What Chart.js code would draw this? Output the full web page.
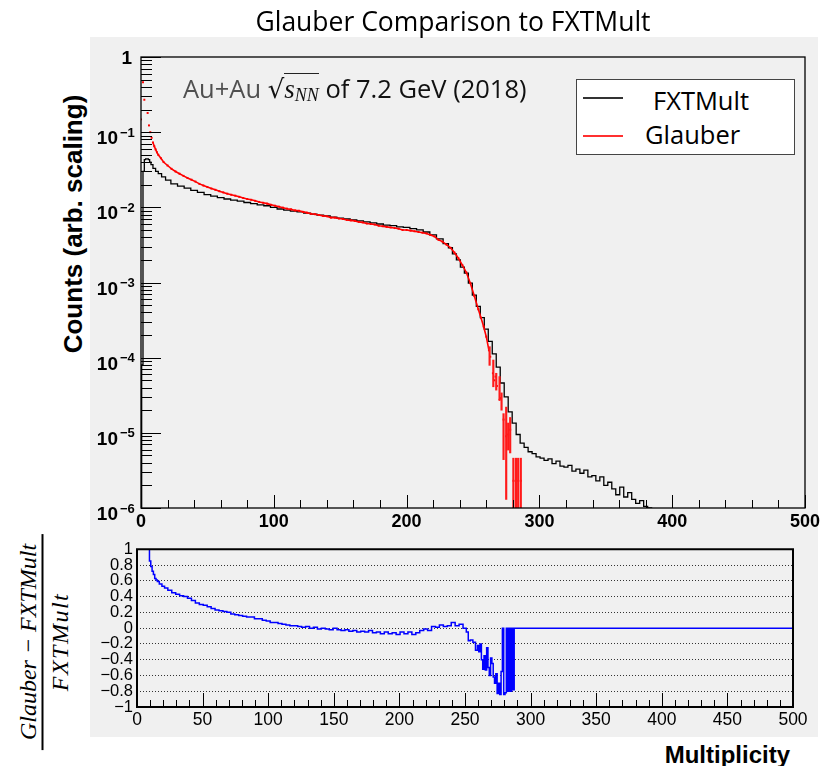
<!DOCTYPE html>
<html>
<head>
<meta charset="utf-8">
<script src="https://cdn.jsdelivr.net/npm/chart.js@4.4.1/dist/chart.umd.min.js"></script>
<style>
  body { margin: 0; width: 823px; height: 766px; background: #fff; position: relative; overflow: hidden; font-family: 'Liberation Sans', Arial, sans-serif; }
  #pad { position: absolute; left: 90px; top: 37px; width: 728px; height: 700px; background: #f0f0f0; }
  canvas { position: absolute; left: 90px; }
  #topCanvas { top: 37px; }
  #botCanvas { top: 537px; }
  .abs { position: absolute; white-space: nowrap; }
  .title { left: 0; width: 906px; top: 5px; text-align: center; font-family: 'Open Sans'; font-size: 26.5px; line-height: 32px; color: #000; }
  .note { left: 183px; top: 73px; font-family: 'Open Sans'; font-size: 25.5px; line-height: 30px; color: #111; }
  .lg { font-family: 'Open Sans'; font-size: 25.5px; line-height: 28px; color: #000; }
  .rot { transform: translate(-50%, -50%) rotate(-90deg); }
</style>
</head>
<body>
<div id="pad"></div>
<canvas id="topCanvas" width="740" height="500"></canvas>
<canvas id="botCanvas" width="728" height="200"></canvas>

<div class="abs title">Glauber Comparison to FXTMult</div>

<div class="abs note"><span style="color:#505050">Au+Au</span> <span style="font-family:'DejaVu Serif';font-size:26px;">√</span><span style="border-top:1.5px solid #222;font-family:'Liberation Serif';font-style:italic;font-size:27px;">s<sub style="font-size:18px;vertical-align:-3px;">NN</sub></span> of 7.2 GeV (2018)</div>

<div class="abs" style="left:576px;top:79px;width:219px;height:76px;background:#fff;border:1px solid #444;box-sizing:border-box;"></div>
<div class="abs" style="left:583px;top:97px;width:40px;height:2px;background:#333;"></div>
<div class="abs" style="left:583px;top:135px;width:40px;height:2px;background:#ff3030;"></div>
<div class="abs lg" style="left:653px;top:86px;">FXTMult</div>
<div class="abs lg" style="left:645px;top:120px;">Glauber</div>

<div class="abs rot" style="left:73px;top:224px;font:bold 26px 'Liberation Sans';line-height:30px;">Counts (arb. scaling)</div>

<div class="abs rot" style="left:44px;top:642px;font:italic 24px 'Liberation Serif';text-align:center;">
  <div style="line-height:27px;padding:0 10px;">Glauber − FXTMult</div>
  <div style="border-top:2px solid #000;line-height:27px;padding-top:3px;letter-spacing:1.5px;">FXTMult</div>
</div>

<div class="abs" style="right:33px;top:740px;font:bold 24px 'Liberation Sans';line-height:30px;">Multiplicity</div>

<script>
// FXTMult histogram (black), bin centre -> counts
const fxtMultX = [0, 1, 2, 3, 4, 5, 6, 7, 8, 10, 12, 14, 17, 20, 25, 30, 35, 40, 45, 50,
  55, 60, 65, 70, 75, 80, 85, 90, 95, 100, 105, 110, 115, 120, 125, 130, 135, 140, 145, 150,
  155, 160, 165, 170, 175, 180, 185, 190, 195, 200, 205, 210, 215, 220, 225, 230, 233, 236, 239, 242,
  245, 248, 251, 254, 257, 260, 263, 266, 269, 272, 275, 278, 281, 284, 287, 290, 293, 296, 299, 302,
  305, 308, 311, 314, 317, 320, 323, 326, 329, 332, 335, 338, 341, 344, 347, 350, 353, 356, 359, 362,
  365, 368, 371, 374, 377, 380, 383, 386];
const fxtMult = [5e-7, 8e-5, 3.0e-2, 4.3e-2, 4.4e-2, 4.4e-2, 4.3e-2, 4.0e-2, 3.7e-2, 3.3e-2, 3.0e-2, 2.8e-2, 2.55e-2, 2.3e-2, 2.05e-2, 1.92e-2, 1.80e-2, 1.68e-2, 1.58e-2, 1.48e-2,
  1.41e-2, 1.35e-2, 1.29e-2, 1.25e-2, 1.21e-2, 1.16e-2, 1.12e-2, 1.08e-2, 1.05e-2, 1.00e-2, 9.5e-3, 9.2e-3, 8.9e-3, 8.7e-3, 8.4e-3, 8.1e-3, 7.9e-3, 7.7e-3, 7.4e-3, 7.2e-3,
  7.0e-3, 6.8e-3, 6.6e-3, 6.4e-3, 6.2e-3, 6.0e-3, 5.8e-3, 5.7e-3, 5.5e-3, 5.4e-3, 5.2e-3, 5.0e-3, 4.7e-3, 4.3e-3, 3.8e-3, 3.3e-3, 2.9e-3, 2.4e-3, 2.0e-3, 1.6e-3,
  1.33e-3, 9.8e-4, 6.8e-4, 4.8e-4, 3.4e-4, 2.4e-4, 1.65e-4, 1.12e-4, 7.5e-5, 4.6e-5, 3.0e-5, 1.9e-5, 1.35e-5, 9.5e-6, 7.3e-6, 6.4e-6, 5.6e-6, 5.3e-6, 4.8e-6, 4.6e-6,
  4.3e-6, 4.5e-6, 3.9e-6, 4.2e-6, 3.6e-6, 3.5e-6, 3.7e-6, 3.1e-6, 3.3e-6, 2.9e-6, 3.2e-6, 2.6e-6, 2.7e-6, 2.3e-6, 2.6e-6, 2.0e-6, 2.2e-6, 1.8e-6, 1.5e-6, 1.9e-6,
  1.4e-6, 1.6e-6, 1.3e-6, 1.15e-6, 1.25e-6, 1.05e-6, 1.0e-6, 5e-7];

// Glauber (red markers)
const glauberX = [0, 1.5, 2.5, 5, 6, 7, 8, 9, 10, 11, 12, 13, 15, 17, 20, 23, 26, 29, 32, 35,
  38, 41, 44, 47, 50, 53, 56, 59, 62, 65, 68, 71, 74, 77, 80, 83, 86, 89, 92, 95,
  98, 101, 104, 107, 110, 113, 116, 119, 122, 125, 128, 131, 134, 137, 140, 143, 146, 149, 152, 155,
  158, 161, 164, 167, 170, 173, 176, 179, 182, 185, 188, 191, 194, 197, 200, 203, 206, 209, 212, 215,
  218, 221, 224, 227, 230, 233, 236, 239, 242, 245, 248, 251, 254, 256, 258, 260, 262, 263, 265, 266,
  267, 268, 270, 271, 273, 275, 276.5, 278, 280.5, 282.5, 284, 286];
const glauber = [0.148, 0.46, 0.27, 0.18, 0.123, 0.10, 0.084, 0.073, 0.065, 0.059, 0.054, 0.050, 0.045, 0.040, 0.036, 0.0325, 0.030, 0.028, 0.0262, 0.0246,
  0.0233, 0.022, 0.0205, 0.0195, 0.0186, 0.0178, 0.0171, 0.0164, 0.0158, 0.0152, 0.0147, 0.0143, 0.0138, 0.0133, 0.0129, 0.0126, 0.0122, 0.0118, 0.0115, 0.0112,
  0.0108, 0.0105, 0.0102, 0.0099, 0.0096, 0.0094, 0.0091, 0.0090, 0.0087, 0.0085, 0.0082, 0.0081, 0.0079, 0.0077, 0.0076, 0.0073, 0.0073, 0.0071, 0.0070, 0.0068,
  0.0067, 0.0066, 0.0064, 0.0063, 0.0061, 0.0060, 0.0059, 0.0057, 0.0056, 0.0055, 0.0054, 0.0053, 0.0052, 0.0050, 0.0050, 0.0049, 0.0048, 0.0047, 0.0046, 0.0045,
  0.0043, 0.0041, 0.0037, 0.0035, 0.0032, 0.0029, 0.0025, 0.0021, 0.0017, 0.00136, 0.00098, 0.00066, 0.00044, 0.00034, 0.00026, 0.00019, 0.000125, 0.000103, 6.2e-5, 5.0e-5,
  5.6e-5, 4.2e-5, 2.75e-5, 2.9e-5, 1.5e-5, 9e-6, 9.5e-6, 1.1e-5, 2.3e-6, 2.3e-6, 2.3e-6, 2.3e-6];

// Glauber error bars in the tail
const glauberErrX = [262.5, 265.3, 267.5, 270, 271.5, 273, 275, 276.5, 278, 280.4, 282.4, 284, 286];
const glauberErrLow = [7.9e-5, 4.1e-5, 3.7e-5, 2.75e-5, 2.0e-5, 4.4e-6, 1.3e-6, 5.9e-6, 5.4e-6, 1e-7, 1e-7, 1e-7, 1e-7];
const glauberErrHigh = [1.4e-4, 9.3e-5, 6.2e-5, 5.6e-5, 3.4e-5, 1.8e-5, 2.2e-5, 1.35e-5, 1.6e-5, 4.6e-6, 4.6e-6, 4.6e-6, 4.6e-6];

// (Glauber - FXTMult) / FXTMult (blue)
const ratioX = [0, 5, 9, 10, 11, 12, 13, 14, 15, 16, 18, 20, 22, 25, 28, 31, 34, 37, 40, 43,
  46, 49, 52, 55, 58, 61, 64, 67, 70, 73, 76, 79, 82, 85, 88, 91, 94, 97, 100, 103,
  106, 109, 112, 115, 118, 121, 124, 127, 130, 133, 136, 139, 142, 145, 148, 151, 154, 157, 160, 163,
  166, 169, 172, 175, 178, 181, 184, 187, 190, 193, 196, 199, 202, 205, 208, 211, 214, 217, 220, 223,
  226, 229, 232, 235, 238, 241, 244, 247, 250, 252, 253, 255, 257, 259, 260, 261, 262, 263, 264, 265,
  266, 267, 268, 269, 270, 271, 272, 273, 274, 275, 276, 277, 278, 279, 280, 281, 282, 283, 284, 285,
  286, 287, 288, 500];
const ratio = [1, 1, 1, 0.85, 0.78, 0.72, 0.68, 0.63, 0.61, 0.59, 0.56, 0.53, 0.51, 0.48, 0.45, 0.43, 0.41, 0.40, 0.38, 0.35,
  0.32, 0.30, 0.29, 0.27, 0.25, 0.23, 0.22, 0.21, 0.20, 0.18, 0.17, 0.16, 0.15, 0.14, 0.14, 0.12, 0.12, 0.10, 0.09, 0.07,
  0.07, 0.06, 0.05, 0.04, 0.03, 0.03, 0.02, 0.01, 0.02, 0.00, 0.01, -0.01, 0.00, -0.01, -0.02, 0.00, -0.02, -0.03, -0.02, -0.04,
  -0.03, -0.05, -0.04, -0.05, -0.03, -0.06, -0.05, -0.07, -0.05, -0.07, -0.06, -0.08, -0.05, -0.07, -0.05, -0.08, -0.06, -0.03, -0.01, -0.03,
  0.02, 0.01, 0.04, 0.02, 0.03, 0.07, 0.03, 0.05, 0.00, -0.05, -0.16, -0.15, -0.18, -0.28, -0.22, -0.30, -0.20, -0.40, -0.52, -0.35,
  -0.53, -0.25, -0.50, -0.60, -0.38, -0.45, -0.62, -0.70, -0.58, -0.83, -0.70, -0.84, -0.55, 0, -0.84, -0.82, 0, -0.80, 0, -0.80,
  0, -0.78, 0, 0];

// tick values
const logDecades = [-6, -5, -4, -3, -2, -1];
const ratioTicks = [-1, -0.8, -0.6, -0.4, -0.2, 0, 0.2, 0.4, 0.6, 0.8, 1];

const axisFont = "'Liberation Sans', Arial, sans-serif";

// ROOT-like frame with inward tick marks
const rootAxes = {
  id: 'rootAxes',
  afterDatasetsDraw(chart, args, opts) {
    const { ctx, chartArea: a, scales } = chart;
    ctx.save();
    ctx.strokeStyle = '#000';
    ctx.lineWidth = opts.frameWidth;
    ctx.strokeRect(a.left, a.top, a.right - a.left, a.bottom - a.top);

    ctx.lineWidth = 1;
    const x = scales.x;
    for (let v = x.min; v <= x.max; v += opts.xMinor) {
      const px = Math.round(x.getPixelForValue(v)) + 0.5;
      const len = v % opts.xMajor === 0 ? opts.xMajorLen : opts.xMinorLen;
      ctx.beginPath();
      ctx.moveTo(px, a.bottom);
      ctx.lineTo(px, a.bottom - len);
      ctx.stroke();
    }

    if (opts.logY) {
      const y = scales.y;
      logDecades.concat([0]).forEach(e => {
        for (let k = 1; k <= 9; k++) {
          if (e === 0 && k > 1) break;
          const py = Math.round(y.getPixelForValue(k * Math.pow(10, e))) + 0.5;
          const len = k === 1 ? 20 : 11;
          ctx.beginPath();
          ctx.moveTo(a.left, py);
          ctx.lineTo(a.left + len, py);
          ctx.stroke();
        }
      });
      // decade labels with superscripts
      ctx.fillStyle = '#000';
      ctx.textBaseline = 'alphabetic';
      logDecades.forEach(e => {
        const py = y.getPixelForValue(Math.pow(10, e));
        ctx.font = 'bold 19px ' + axisFont;
        ctx.textAlign = 'right';
        ctx.fillText('10', a.left - 23, py + 12);
        ctx.font = 'bold 13px ' + axisFont;
        ctx.textAlign = 'left';
        ctx.fillText('\u2212' + (-e), a.left - 21, py + 4.5);
      });
      ctx.font = 'bold 19px ' + axisFont;
      ctx.textAlign = 'right';
      ctx.fillText('1', a.left - 9, y.getPixelForValue(1) + 6.5);
    }
    ctx.restore();
  }
};

const topChart = new Chart(document.getElementById('topCanvas'), {
  type: 'line',
  data: {
    datasets: [
      {
        type: 'bar',
        label: 'Glauber errors',
        data: glauberErrX.map((v, i) => ({ x: v, y: [glauberErrLow[i], glauberErrHigh[i]] })),
        backgroundColor: '#ff1a1a',
        borderWidth: 0,
        barThickness: 1.5
      },
      {
        label: 'Glauber',
        data: glauberX.map((v, i) => ({ x: v, y: glauber[i] })),
        borderColor: '#ff0000',
        backgroundColor: '#ff0000',
        borderWidth: 1.6,
        pointStyle: 'rect',
        pointRadius: 1.4,
        pointBorderWidth: 0,
        segment: {
          borderColor: c => (c.p0.parsed.x < 9 || c.p1.parsed.x > 262) ? 'rgba(0,0,0,0)' : '#ff0000'
        }
      },
      {
        label: 'FXTMult',
        data: fxtMultX.map((v, i) => ({ x: v, y: fxtMult[i] })),
        borderColor: '#000',
        borderWidth: 1.3,
        pointRadius: 0,
        stepped: 'middle'
      }
    ]
  },
  options: {
    responsive: false,
    animation: false,
    layout: { padding: { top: 20, right: 25, left: 0, bottom: 0 }, autoPadding: false },
    plugins: {
      legend: { display: false },
      tooltip: { enabled: false },
      rootAxes: { frameWidth: 1.3, xMinor: 20, xMajor: 100, xMajorLen: 13, xMinorLen: 8, logY: true }
    },
    scales: {
      x: {
        type: 'linear', min: 0, max: 500, offset: false,
        grid: { display: false, drawTicks: false },
        border: { display: false },
        ticks: { stepSize: 100, padding: 3, maxRotation: 0, autoSkip: false, color: '#000',
          font: { family: axisFont, size: 18, weight: 'bold' } },
        afterFit: s => { s.height = 29; }
      },
      y: {
        type: 'logarithmic', min: 1e-6, max: 1,
        grid: { display: false, drawTicks: false },
        border: { display: false },
        ticks: { display: false },
        afterFit: s => { s.width = 51; }
      }
    }
  },
  plugins: [rootAxes]
});

const botChart = new Chart(document.getElementById('botCanvas'), {
  type: 'line',
  data: {
    datasets: [{
      label: 'ratio',
      data: ratioX.map((v, i) => ({ x: v, y: ratio[i] })),
      borderColor: '#0000ff',
      borderWidth: 1.5,
      pointRadius: 0,
      stepped: 'middle'
    }]
  },
  options: {
    responsive: false,
    animation: false,
    layout: { padding: { top: 11, right: 25, left: 0, bottom: 0 }, autoPadding: false },
    plugins: {
      legend: { display: false },
      tooltip: { enabled: false },
      rootAxes: { frameWidth: 2, xMinor: 10, xMajor: 50, xMajorLen: 14, xMinorLen: 7, logY: false }
    },
    scales: {
      x: {
        type: 'linear', min: 0, max: 500, offset: false,
        grid: { display: false, drawTicks: false },
        border: { display: false },
        ticks: { stepSize: 50, padding: 3, maxRotation: 0, autoSkip: false, color: '#000',
          font: { family: axisFont, size: 17.5 } },
        afterFit: s => { s.height = 30; }
      },
      y: {
        type: 'linear', min: -1, max: 1,
        afterBuildTicks: s => { s.ticks = ratioTicks.map(v => ({ value: v })); },
        grid: { color: '#333', lineWidth: 1, drawTicks: false },
        border: { display: false, dash: [1, 2] },
        ticks: { padding: 4, autoSkip: false, color: '#000', font: { family: axisFont, size: 16.5, lineHeight: 1 },
          callback: v => (v < 0 ? '\u2212' : '') + String(Math.abs(Math.round(v * 10) / 10)) },
        afterFit: s => { s.width = 47; }
      }
    }
  },
  plugins: [rootAxes]
});
</script>
</body>
</html>
